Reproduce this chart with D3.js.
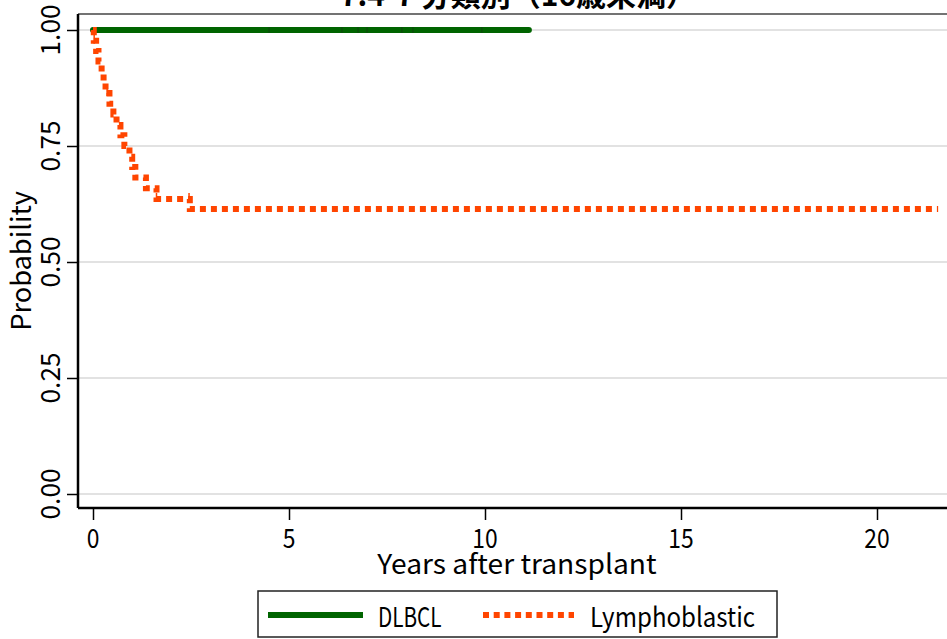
<!DOCTYPE html>
<html>
<head>
<meta charset="utf-8">
<script src="https://cdn.jsdelivr.net/npm/d3@7"></script>
<style>
    body { margin: 0; background: #fff; }
    text { font-family: "Noto Sans CJK JP", "DejaVu Sans Mono", sans-serif; fill: #000; }
</style>
</head>
<body>
<svg id="chart" width="947" height="639"></svg>
<script>
const titleText = "7.4-7 分類別（16歳未満）";
const seriesNames = ["DLBCL", "Lymphoblastic"];
const seriesColors = ["#006400", "#ff4500"];

const xTicks = [0, 5, 10, 15, 20];
const yTicks = [0, 0.25, 0.5, 0.75, 1];
const yTickLabels = ["0.00", "0.25", "0.50", "0.75", "1.00"];

// DLBCL: no events, censored follow-up
const dlbclTimes = [0, 11.12];
const dlbclSurv = [1, 1];
const dlbclCensor = [4.49, 6.35, 6.76, 6.99, 7.88, 8.16, 9.92];

// Lymphoblastic: KM steps (time of event, survival after it)
const lymphTimes = [0, 0.02, 0.08, 0.14, 0.22, 0.27, 0.32, 0.42, 0.52, 0.60, 0.70, 0.80, 0.93, 1.00, 1.08, 1.35, 1.62, 2.47, 21.56];
const lymphSurv = [1, 0.977, 0.955, 0.932, 0.909, 0.886, 0.864, 0.841, 0.818, 0.795, 0.773, 0.750, 0.727, 0.705, 0.682, 0.659, 0.636, 0.614, 0.614];
const lymphCensor = [0.03, 0.36, 1.62, 2.45];

class KMChart {
    constructor() {
        this.svg = d3.select("#chart");
        this.plot = {"left": 78, "top": 14, "bottom": 508, "right": 947};
        this.fontSize = 27;
        this.charW = 12.7;
        this.createScales();
    }

    createScales() {
        this.x = d3.scaleLinear().domain([0, 20]).range([93, 877]);
        this.y = d3.scaleLinear().domain([0, 1]).range([494, 30]);
    }

    label(g, str) {
        // narrow gothic look: squeeze half-width characters to a fixed pitch
        return g.append("text")
            .attr("font-size", this.fontSize)
            .attr("textLength", str.length * this.charW)
            .attr("lengthAdjust", "spacingAndGlyphs")
            .text(str);
    }

    draw() {
        let svg = this.svg;

        // title (cut off at top)
        svg.append("text")
            .attr("x", 518).attr("y", 6)
            .attr("text-anchor", "middle")
            .attr("font-size", 30)
            .attr("font-weight", "bold")
            .text(titleText);

        // gridlines
        svg.append("g").selectAll("line")
            .data(yTicks)
            .join("line")
            .attr("x1", this.plot.left).attr("x2", this.plot.right)
            .attr("y1", d => this.y(d)).attr("y2", d => this.y(d))
            .attr("stroke", "#e2e2e2").attr("stroke-width", 2);

        // plot frame top
        svg.append("line")
            .attr("x1", this.plot.left).attr("x2", this.plot.right)
            .attr("y1", this.plot.top).attr("y2", this.plot.top)
            .attr("stroke", "#444").attr("stroke-width", 1.5);

        // axes
        let xAxis = svg.append("g")
            .attr("transform", `translate(0,${this.plot.bottom})`)
            .call(d3.axisBottom(this.x).tickValues(xTicks).tickSize(12).tickFormat(""));
        xAxis.select(".domain").attr("d", `M${this.plot.left},0H${this.plot.right}`).attr("stroke-width", 2.5);
        xAxis.selectAll(".tick line").attr("stroke-width", 1.5);

        let yAxis = svg.append("g")
            .attr("transform", `translate(${this.plot.left},0)`)
            .call(d3.axisLeft(this.y).tickValues(yTicks).tickSize(11).tickFormat(""));
        yAxis.select(".domain").attr("d", `M0,${this.plot.top}V${this.plot.bottom}`).attr("stroke-width", 2.5);
        yAxis.selectAll(".tick line").attr("stroke-width", 1.5);

        // tick labels
        xTicks.forEach(t => {
            this.label(svg, String(t))
                .attr("x", this.x(t)).attr("y", 548)
                .attr("text-anchor", "middle");
        });
        yTicks.forEach((t, i) => {
            this.label(svg, yTickLabels[i])
                .attr("text-anchor", "middle")
                .attr("transform", `translate(60,${this.y(t)}) rotate(-90)`);
        });

        // axis titles
        this.label(svg, "Years after transplant")
            .attr("x", 517).attr("y", 574)
            .attr("text-anchor", "middle");
        this.label(svg, "Probability")
            .attr("text-anchor", "middle")
            .attr("transform", `translate(31,261) rotate(-90)`);

        // curves
        let line = d3.line()
            .x(d => this.x(d[0]))
            .y(d => this.y(d[1]))
            .curve(d3.curveStepAfter);

        let curves = [
            {"pts": dlbclTimes.map((t, i) => [t, dlbclSurv[i]]), "color": seriesColors[0], "dash": null, "censor": dlbclCensor},
            {"pts": lymphTimes.map((t, i) => [t, lymphSurv[i]]), "color": seriesColors[1], "dash": "6 5", "censor": lymphCensor}
        ];

        curves.forEach((c, k) => {
            svg.append("path")
                .datum(c.pts)
                .attr("d", line)
                .attr("fill", "none")
                .attr("stroke", c.color)
                .attr("stroke-width", 6)
                .attr("stroke-dasharray", c.dash)
                .attr("stroke-linecap", k === 0 ? "round" : "butt");

            let sAt = t => {
                let idx = d3.bisectRight(c.pts.map(p => p[0]), t) - 1;
                return c.pts[Math.max(idx, 0)][1];
            };
            svg.append("g").selectAll("line")
                .data(c.censor)
                .join("line")
                .attr("x1", d => this.x(d)).attr("x2", d => this.x(d))
                .attr("y1", d => this.y(sAt(d)) - (k === 0 ? 3 : 6))
                .attr("y2", d => this.y(sAt(d)) + 3)
                .attr("stroke", k === 0 ? "#0b4d0b" : c.color)
                .attr("stroke-width", 1.5);
        });

        // legend
        let lg = svg.append("g");
        lg.append("rect")
            .attr("x", 258).attr("y", 591)
            .attr("width", 519).attr("height", 46)
            .attr("fill", "#fff").attr("stroke", "#222").attr("stroke-width", 1.5);
        lg.append("line")
            .attr("x1", 268).attr("x2", 363).attr("y1", 615).attr("y2", 615)
            .attr("stroke", seriesColors[0]).attr("stroke-width", 6);
        lg.append("line")
            .attr("x1", 483).attr("x2", 574).attr("y1", 615).attr("y2", 615)
            .attr("stroke", seriesColors[1]).attr("stroke-width", 6)
            .attr("stroke-dasharray", "6 4.7");
        this.label(lg, seriesNames[0]).attr("x", 378).attr("y", 627);
        this.label(lg, seriesNames[1]).attr("x", 590).attr("y", 627);
    }
}

new KMChart().draw();
</script>
</body>
</html>
